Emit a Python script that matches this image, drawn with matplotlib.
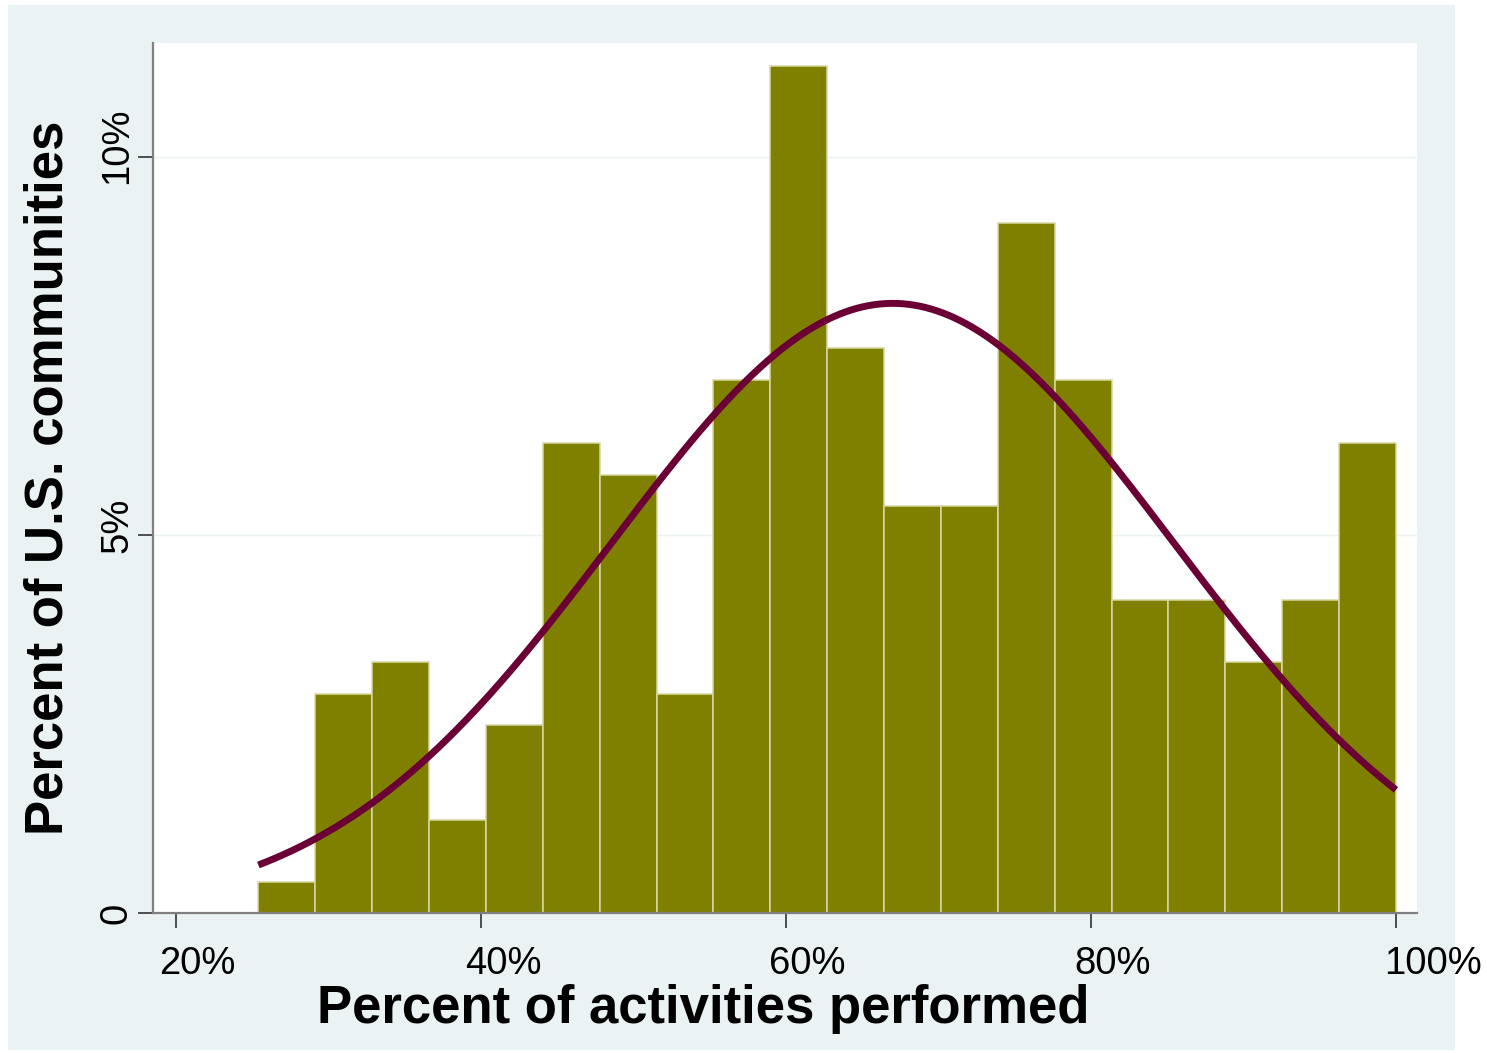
import numpy as np
import matplotlib
matplotlib.use("Agg")
import matplotlib.pyplot as plt
from matplotlib.patches import Rectangle
from matplotlib.transforms import ScaledTranslation

plt.rcParams['font.family'] = ['Liberation Sans', 'DejaVu Sans']

# Histogram data (percent of communities per bin)
bin_start = 25.4
bin_end = 100.0
heights = [0.41, 2.90, 3.32, 1.23, 2.49, 6.22, 5.79, 2.90, 7.05, 11.20,
           7.47, 5.38, 5.38, 9.13, 7.05, 4.14, 4.14, 3.32, 4.14, 6.22]
# Normal overlay parameters
mu = 67.0
sigma = 18.45

xticks = [20, 40, 60, 80, 100]
xticklabels = ["20%", "40%", "60%", "80%", "100%"]
yticks = [0, 5, 10]
yticklabels = ["0", "5%", "10%"]

n = len(heights)
width = (bin_end - bin_start) / n
lefts = [bin_start + i * width for i in range(n)]

DPI = 100
fig = plt.figure(figsize=(14.87, 10.53), dpi=DPI, facecolor='white')
bg = Rectangle((8/1487, 3/1053), (1455-8)/1487, (1050-5)/1053,
               transform=fig.transFigure, facecolor='#EAF2F3',
               edgecolor='none', zorder=-10)
fig.add_artist(bg)
ax = fig.add_axes([153/1487, 1-913/1053, (1417-153)/1487, (913-43)/1053])
ax.set_zorder(1)
ax.set_facecolor('white')

ax.bar(lefts, heights, width=width, align='edge', color='#808000',
       edgecolor='#D8D8A4', linewidth=1.1, zorder=2)

xs = np.linspace(bin_start, bin_end, 400)
ys = 100 * width / (sigma * np.sqrt(2 * np.pi)) * np.exp(-0.5 * ((xs - mu) / sigma) ** 2)
ax.plot(xs, ys, color='#6B0035', linewidth=5.0, zorder=3, solid_capstyle='butt')

ax.set_xlim(18.49, 101.38)
ax.set_ylim(0, 11.51)

for y in [5, 10]:
    ax.axhline(y, color='#EAF2F3', linewidth=1.0, zorder=1)

ax.set_xticks(xticks)
ax.set_xticklabels(xticklabels, fontsize=27.5)
ax.set_yticks(yticks)
ax.set_yticklabels(yticklabels, fontsize=27.5, rotation=90, va='center', ha='right')

for s in ['top', 'right']:
    ax.spines[s].set_visible(False)
for s in ['left', 'bottom']:
    ax.spines[s].set_color('#808080')
    ax.spines[s].set_linewidth(1.6)

ax.tick_params(axis='both', direction='out', length=11, width=1.2, color='#333333')
ax.tick_params(axis='x', pad=13)
ax.tick_params(axis='y', pad=2)

# label offsets (pixels) to match the reference placement
x_dx = [21, 22, 21, 22, 37]
for lab, dx in zip(ax.get_xticklabels(), x_dx):
    lab.set_transform(lab.get_transform() + ScaledTranslation(dx / DPI, 0, fig.dpi_scale_trans))
y_dy = [0, 10, 11]
for lab, dy in zip(ax.get_yticklabels(), y_dy):
    lab.set_transform(lab.get_transform() + ScaledTranslation(0, dy / DPI, fig.dpi_scale_trans))

ax.set_xlabel("Percent of activities performed", fontsize=38, fontweight='bold')
ax.xaxis.set_label_coords(703/1487, 1 - 1023/1053, transform=fig.transFigure)
ax.xaxis.label.set_va('baseline')
ax.set_ylabel("Percent of U.S. communities", fontsize=38, fontweight='bold')
ax.yaxis.set_label_coords(63/1487, 1 - 478/1053, transform=fig.transFigure)
ax.yaxis.label.set_va('baseline')

fig.savefig("out.png", dpi=DPI, facecolor='white')
